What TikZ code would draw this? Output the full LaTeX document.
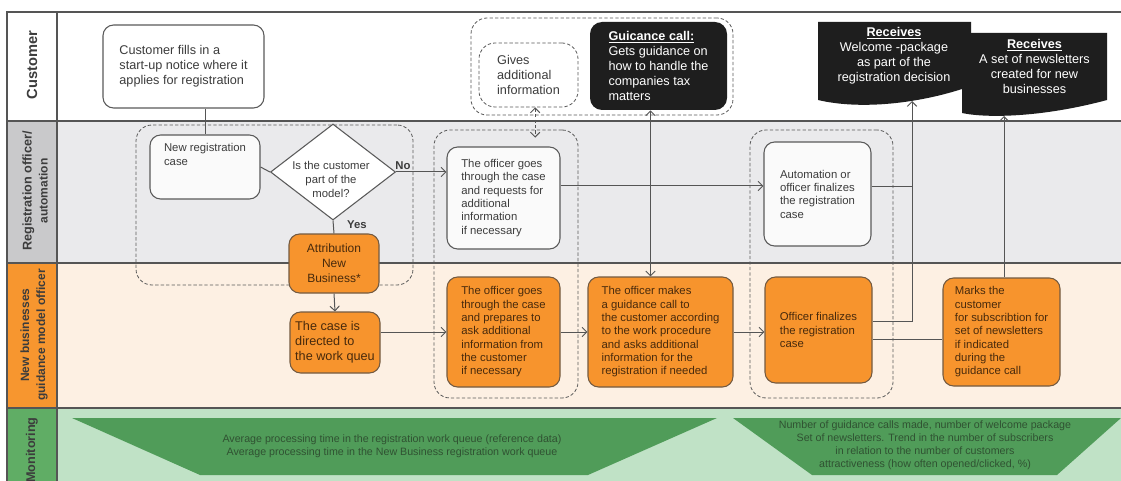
\documentclass[tikz,border=0pt]{standalone}
\usepackage{fontspec}
\setmainfont{Liberation Sans}
\usetikzlibrary{shapes.geometric,arrows.meta}

\definecolor{laneline}{RGB}{85,85,85}
\definecolor{boxline}{RGB}{90,90,90}
\definecolor{boxtext}{RGB}{60,60,60}
\definecolor{reghead}{RGB}{201,201,203}
\definecolor{regbody}{RGB}{234,234,236}
\definecolor{nbhead}{RGB}{247,150,47}
\definecolor{nbbody}{RGB}{253,240,227}
\definecolor{monhead}{RGB}{96,173,101}
\definecolor{monbody}{RGB}{192,226,198}
\definecolor{mongreen}{RGB}{80,156,89}
\definecolor{montxt}{RGB}{48,82,50}
\definecolor{boxorange}{RGB}{247,148,45}
\definecolor{orangeline}{RGB}{115,90,65}
\definecolor{orangetext}{RGB}{72,42,12}
\definecolor{docblack}{RGB}{30,30,30}

\begin{document}
\begin{tikzpicture}[x=0.75pt,y=-0.75pt,
>={Straight Barb[length=3.5pt,width=7pt]},
flow/.style={draw=laneline,line width=0.75pt},
lanehead/.style={rotate=90,align=center,text=boxtext,font=\fontsize{9}{12}\selectfont\bfseries},
wbox/.style={draw=boxline,fill=white!96!gray,rounded corners=8pt,line width=0.8pt,align=left,text=boxtext,font=\fontsize{8.5}{10}\selectfont},
obox/.style={wbox,draw=orangeline,fill=boxorange,text=orangetext},
kbox/.style={fill=docblack,rounded corners=9pt,align=left,text=white,font=\fontsize{9.5}{11.25}\selectfont},
grp/.style={draw=boxline,dash pattern=on 2.5pt off 1.6pt,rounded corners=12pt,line width=0.6pt},
doctext/.style={align=center,text=white,font=\fontsize{9.5}{11.25}\selectfont},
montext/.style={align=center,text=montxt,font=\fontsize{8}{9.75}\selectfont}]
\useasboundingbox (0,0) rectangle (1121,481);
\clip (0,0) rectangle (1121,481);
% lanes
\fill[white] (0,0) rectangle (1121,481);
\fill[reghead] (7,121) rectangle (57,263);
\fill[regbody] (57,121) rectangle (1121,263);
\fill[nbhead] (7,263) rectangle (57,408);
\fill[nbbody] (57,263) rectangle (1121,408);
\fill[monhead] (7,408) rectangle (57,481);
\fill[monbody] (57,408) rectangle (1121,481);
\draw[laneline,line width=0.8pt] (7,481) -- (7,12) -- (1121,12);
\draw[laneline,line width=0.8pt] (57,12) -- (57,481);
\foreach \y in {121,263,408}{
\draw[laneline,line width=0.8pt] (7,\y) -- (1121,\y);
}
\node[lanehead] (hcust) at (32,65) {\fontsize{11}{13}\selectfont Customer};
\node[lanehead] (hreg) at (35,191) {\fontsize{9.5}{13}\selectfont Registration officer/\\automation};
\node[lanehead] (hnb) at (34,335) {New businesses\\guidance model officer};
\node[lanehead] (hmon) at (32,450) {\fontsize{9.5}{12}\selectfont Monitoring};
% monitoring
\fill[mongreen] (72,418) -- (717,418) -- (588,475) -- (200,475) -- cycle;
\fill[mongreen] (733,418) -- (1121,418) -- (1057,475) -- (812,475) -- cycle;
\node[montext] (avgtime) at (392,446) {Average processing time in the registration work queue (reference data)\\Average processing time in the New Business registration work queue};
\node[montext] (counts) at (925,445.5) {Number of guidance calls made, number of welcome package\\Set of newsletters. Trend in the number of subscribers\\in relation to the number of customers\\attractiveness (how often opened/clicked, \%)};
% dashed groups
\node[grp,minimum width=207.75pt,minimum height=120pt] (grpmodel) at (274.5,205) {};
\node[grp,minimum width=108pt,minimum height=201pt] (grpinfo) at (506,264) {};
\node[grp,minimum width=107.25pt,minimum height=201pt] (grpfinal) at (821.5,264) {};
\node[grp,minimum width=196.5pt,minimum height=72.75pt] (grpcust) at (602,66.5) {};
% customer
\node[wbox,fill=white,minimum width=120.75pt,minimum height=62.25pt,font=\fontsize{9.5}{11.25}\selectfont] (notice) at (183.5,66.5) {Customer fills in a\\start-up notice where it\\applies for registration};
\node[wbox,fill=white,grp,minimum width=74.25pt,minimum height=48pt,font=\fontsize{9.5}{11.25}\selectfont] (gives) at (528.5,75) {Gives\\additional\\information};
\node[kbox,minimum width=102.75pt,minimum height=66pt] (guide) at (658.5,66) {\underline{\textbf{Guicance call:}}\\Gets guidance on\\how to handle the\\companies tax\\matters};
% welcome package and newsletters
\fill[docblack] (818,22) -- (971,22) -- (971,86) .. controls (920,104) and (860,110) .. (818,100) -- cycle;
\node[doctext] (welcome) at (894,56) {\underline{\textbf{Receives}}\\Welcome -package\\as part of the\\registration decision};
\fill[docblack] (962,33) -- (1107,33) -- (1107,100) .. controls (1040,118) and (985,118) .. (962,113) -- cycle;
\node[doctext] (news) at (1034.5,66) {\underline{\textbf{Receives}}\\A set of newsletters\\created for new\\businesses};
\coordinate (welcomein) at (912,101);
\coordinate (newsin) at (1004,116);
% registration officer
\node[wbox,minimum width=82.5pt,minimum height=48pt] (newcase) at (205,167) {New registration\\case\\[9pt]};
\node[diamond,draw=boxline,fill=white,line width=0.8pt,minimum width=93.75pt,minimum height=72pt,inner sep=0pt] (model) at (333,172) {};
\node[align=center,text=boxtext,font=\fontsize{8.5}{10.5}\selectfont] (modeltxt) at (331,179) {Is the customer\\part of the\\model?};
\node[text=boxtext,font=\fontsize{8.5}{10}\selectfont\bfseries] (no) at (403,166) {No};
\node[text=boxtext,font=\fontsize{8.5}{10}\selectfont\bfseries] (yes) at (357,225) {Yes};
\node[wbox,minimum width=84.75pt,minimum height=76.5pt] (request) at (503.5,198) {The officer goes\\through the case\\and requests for\\additional\\information\\if necessary};
\node[wbox,minimum width=80.25pt,minimum height=78pt] (auto) at (817.5,194) {Automation or\\officer finalizes\\the registration\\case};
% new businesses officer
\node[obox,align=center,minimum width=67.5pt,minimum height=44.25pt,font=\fontsize{9}{11.25}\selectfont] (attr) at (334,263.5) {Attribution\\New\\Business*};
\node[obox,inner xsep=3pt,minimum width=67.5pt,minimum height=45.75pt,font=\fontsize{9.5}{11.25}\selectfont] (queue) at (335,342.5) {The case is\\directed to\\the work queu};
\node[obox,minimum width=84.75pt,minimum height=82.5pt] (prepare) at (503.5,332) {The officer goes\\through the case\\and prepares to\\ask additional\\information from\\the customer\\if necessary};
\node[obox,minimum width=108.75pt,minimum height=82.5pt] (call) at (660.5,332) {The officer makes\\a guidance call to\\the customer according\\to the work procedure\\and asks additional\\information for the\\registration if needed};
\node[obox,minimum width=80.25pt,minimum height=79.5pt] (finalize) at (818.5,330) {Officer finalizes\\the registration\\case};
\node[obox,minimum width=87.75pt,minimum height=81pt] (marks) at (1001.5,332) {Marks the\\customer\\for subscribtion for\\set of newsletters\\if indicated\\during the\\guidance call};
% connectors
\draw[flow] (notice.south -| newcase.north) -- (newcase.north);
\draw[flow] (newcase.east) -- (model.west);
\draw[flow,->] (model.east) -- (model.east -| request.west);
\draw[flow] (model.south) -- (attr.north);
\draw[flow,->] (attr.south) -- (queue.north);
\draw[flow,->] (prepare.west -| queue.east) -- (prepare.west);
\draw[flow,->] (prepare.east) -- (call.west);
\draw[flow,->] (call.east) -- (call.east -| finalize.west);
\draw[flow,->] ([yshift=9pt]request.east) -- ([yshift=9pt]request.east -| auto.west);
\draw[flow] ([yshift=5.25pt]auto.east) -- ([yshift=5.25pt]auto.east -| welcomein);
\draw[flow,->] ([yshift=6.75pt]finalize.east) -| (welcomein);
\draw[flow] ([yshift=-6.75pt]finalize.east) -- ([yshift=-6.75pt]finalize.east -| marks.west);
\draw[flow,->] (marks.north -| newsin) -- (newsin);
\draw[flow,<->] ([xshift=-6pt]guide.south) -- ([xshift=-6pt]guide.south |- call.north);
\draw[flow,dash pattern=on 2.5pt off 1.6pt,<->] ([xshift=5pt]gives.south) -- ([xshift=5pt,yshift=-6pt]gives.south |- grpinfo.north);
\end{tikzpicture}
\end{document}
